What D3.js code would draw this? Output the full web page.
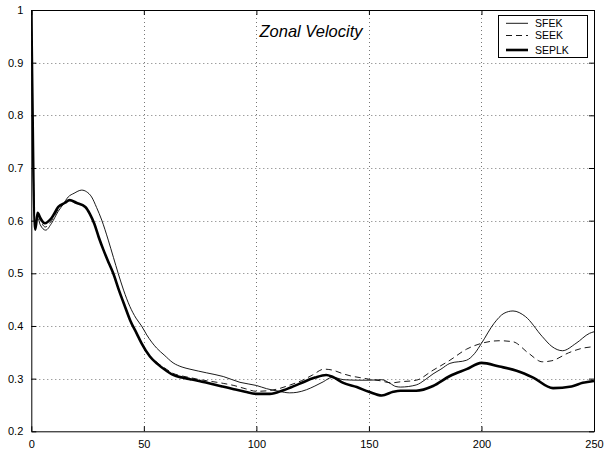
<!DOCTYPE html>
<html>
<head>
<meta charset="utf-8">
<script src="https://cdn.jsdelivr.net/npm/d3@7"></script>
<style>
  body { margin: 0; background: #fff; }
  svg { display: block; font-family: Arial, 'Liberation Sans', sans-serif; }
</style>
</head>
<body>
<div id="chart"></div>
<script>
const width = 605
const height = 451
const plot = { left: 31.3, right: 594, top: 10, bottom: 431.3 }

const xTicks = [0, 50, 100, 150, 200, 250]
const yTicks = [0.2, 0.3, 0.4, 0.5, 0.6, 0.7, 0.8, 0.9, 1]
const seriesNames = ['SFEK', 'SEEK', 'SEPLK']

// [step, value]
const sfek = [
  [0, 1.0], [1.6, 0.59], [2.8, 0.605], [4, 0.592], [6.4, 0.582], [9, 0.595], [12, 0.618],
  [14, 0.63], [16.4, 0.645], [19, 0.652], [22.4, 0.658], [24.5, 0.655], [26.8, 0.645],
  [29, 0.625], [31.3, 0.601], [34.2, 0.563], [36.5, 0.53], [38.6, 0.5], [41, 0.468],
  [43.8, 0.437], [46.5, 0.415], [49, 0.4], [51.3, 0.383], [55.7, 0.358], [59, 0.345],
  [63, 0.33], [67, 0.322], [70.5, 0.318], [77.9, 0.311], [85.3, 0.304], [92.7, 0.293],
  [100, 0.287], [104.5, 0.281], [110, 0.276], [114.8, 0.273], [118, 0.274], [122.3, 0.279],
  [126, 0.286], [129.7, 0.294], [133.4, 0.302], [136, 0.301], [138.6, 0.298], [146, 0.297],
  [150, 0.297], [155.7, 0.298], [159.4, 0.291], [162, 0.285], [164, 0.284], [171, 0.288],
  [175, 0.298], [178.5, 0.309], [182, 0.318], [186, 0.329], [193.4, 0.335], [197, 0.348],
  [200, 0.367], [205.6, 0.405], [210, 0.424], [214, 0.4285], [219.5, 0.418], [227, 0.38],
  [231.3, 0.361], [236, 0.353], [242, 0.367], [248, 0.386], [250, 0.389]
]

const seek = [
  [0, 1.0], [1.7, 0.587], [2.8, 0.61], [4, 0.6], [6.2, 0.588], [9, 0.6], [12, 0.622],
  [15, 0.634], [17, 0.639], [20, 0.634], [24, 0.626], [26, 0.613], [28, 0.594], [30, 0.568],
  [32, 0.545], [34, 0.524], [36.4, 0.5], [39, 0.467], [41.6, 0.437], [44, 0.41],
  [46.8, 0.386], [49, 0.367], [52.7, 0.343], [56, 0.33], [60, 0.318], [63, 0.31],
  [67, 0.305], [70.5, 0.302], [75, 0.298], [78, 0.296], [85.3, 0.291], [90, 0.287],
  [95, 0.281], [100, 0.276], [105, 0.277], [110, 0.281], [115, 0.288], [120, 0.296],
  [125, 0.307], [130, 0.318], [134, 0.316], [138, 0.31], [142, 0.305], [146, 0.302],
  [150, 0.299], [155, 0.296], [160, 0.292], [164, 0.294], [171, 0.297], [178.5, 0.316],
  [186, 0.335], [193.4, 0.356], [200, 0.367], [208, 0.372], [214, 0.37], [221, 0.348],
  [227, 0.332], [231.3, 0.334], [238.7, 0.349], [244.6, 0.3575], [250, 0.3607]
]

const seplk = [
  [0, 1.0], [1.8, 0.583], [2.8, 0.615], [4, 0.605], [6, 0.595], [9, 0.605], [12, 0.626],
  [15, 0.634], [17, 0.639], [20, 0.634], [24, 0.626], [26, 0.613], [28, 0.594], [30, 0.568],
  [32, 0.545], [34, 0.524], [36.4, 0.5], [39, 0.467], [41.6, 0.437], [44, 0.41],
  [46.8, 0.386], [49, 0.367], [52.7, 0.342], [56, 0.328], [60, 0.315], [63, 0.307],
  [67, 0.302], [70.5, 0.299], [75, 0.295], [78, 0.292], [85, 0.285], [90, 0.28], [95, 0.275],
  [100, 0.271], [106, 0.271], [112, 0.278], [119, 0.29], [126, 0.302], [131, 0.307],
  [134, 0.303], [138.6, 0.292], [144.6, 0.284], [150, 0.275], [155.7, 0.268], [160.8, 0.275],
  [164, 0.277], [171, 0.277], [178.5, 0.286], [186, 0.305], [193.4, 0.318], [200, 0.33],
  [208, 0.323], [215.6, 0.315], [223, 0.302], [231.8, 0.282], [240, 0.285], [245, 0.292],
  [250, 0.2955]
]

const seriesData = [sfek, seek, seplk]
const lineStyles = [
  { width: 0.9, dash: null },
  { width: 0.9, dash: '6,4' },
  { width: 2.6, dash: null }
]

const x = d3.scaleLinear().domain([0, 250]).range([plot.left, plot.right])
const y = d3.scaleLinear().domain([0.2, 1]).range([plot.bottom, plot.top])

const svg = d3.select('#chart').append('svg')
  .attr('width', width)
  .attr('height', height)

svg.append('rect').attr('width', width).attr('height', height).attr('fill', '#fff')

svg.append('defs').append('clipPath').attr('id', 'clip')
  .append('rect')
  .attr('x', plot.left).attr('y', plot.top)
  .attr('width', plot.right - plot.left).attr('height', plot.bottom - plot.top)

// dotted grid
const grid = svg.append('g').attr('stroke', '#777').attr('stroke-width', 1).attr('stroke-dasharray', '1,3')
grid.selectAll('.vg')
  .data(xTicks.slice(1, -1))
  .enter().append('line')
  .attr('x1', d => Math.round(x(d)) + 0.5).attr('x2', d => Math.round(x(d)) + 0.5)
  .attr('y1', plot.top).attr('y2', plot.bottom)
grid.selectAll('.hg')
  .data(yTicks.slice(1, -1))
  .enter().append('line')
  .attr('y1', d => Math.round(y(d)) + 0.5).attr('y2', d => Math.round(y(d)) + 0.5)
  .attr('x1', plot.left).attr('x2', plot.right)

// series
const line = d3.line().x(d => x(d[0])).y(d => y(d[1])).curve(d3.curveMonotoneX)

svg.append('g').attr('clip-path', 'url(#clip)')
  .selectAll('path')
  .data(seriesData)
  .enter().append('path')
  .attr('d', line)
  .attr('fill', 'none')
  .attr('stroke', '#000')
  .attr('stroke-width', (d, i) => lineStyles[i].width)
  .attr('stroke-dasharray', (d, i) => lineStyles[i].dash)
  .attr('stroke-linejoin', 'round')

// axes, MATLAB style: ticks inside on all four sides
const tickLen = 5
svg.append('g').attr('transform', `translate(0,${plot.bottom})`)
  .call(d3.axisBottom(x).tickValues(xTicks).tickSizeInner(-tickLen).tickSizeOuter(0).tickPadding(9))
svg.append('g').attr('transform', `translate(0,${plot.top})`)
  .call(d3.axisTop(x).tickValues(xTicks).tickSizeInner(-tickLen).tickSizeOuter(0).tickFormat(''))
svg.append('g').attr('transform', `translate(${plot.left},0)`)
  .call(d3.axisLeft(y).tickValues(yTicks).tickSizeInner(-tickLen).tickSizeOuter(0).tickPadding(8)
    .tickFormat(d3.format('~g')))
svg.append('g').attr('transform', `translate(${plot.right},0)`)
  .call(d3.axisRight(y).tickValues(yTicks).tickSizeInner(-tickLen).tickSizeOuter(0).tickFormat(''))

svg.selectAll('.tick text').attr('font-size', 11).attr('fill', '#000')
  .attr('font-family', "Arial, 'Liberation Sans', sans-serif")
svg.selectAll('.domain').attr('stroke', '#000')

// title
svg.append('text')
  .attr('x', 311).attr('y', 37)
  .attr('text-anchor', 'middle')
  .attr('font-size', 16.5)
  .attr('font-style', 'italic')
  .text('Zonal Velocity')

// legend
const legend = svg.append('g')
legend.append('rect')
  .attr('x', 498.5).attr('y', 15.5)
  .attr('width', 89).attr('height', 42)
  .attr('fill', '#fff').attr('stroke', '#000')

const rowY = [23.3, 35.5, 50]
const rows = legend.selectAll('.row')
  .data(seriesNames)
  .enter().append('g')
  .attr('transform', (d, i) => `translate(0,${rowY[i]})`)
rows.append('line')
  .attr('x1', 506).attr('x2', 528)
  .attr('stroke', '#000')
  .attr('stroke-width', (d, i) => lineStyles[i].width)
  .attr('stroke-dasharray', (d, i) => lineStyles[i].dash)
rows.append('text')
  .attr('x', 535).attr('dy', '0.36em')
  .attr('font-size', 10.5)
  .text(d => d)
</script>
</body>
</html>
